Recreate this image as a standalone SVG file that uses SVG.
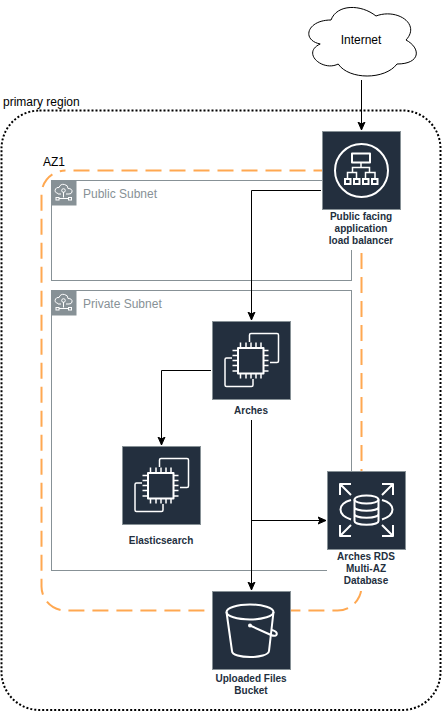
<svg xmlns="http://www.w3.org/2000/svg" width="442" height="712" viewBox="0 0 442 712">
<style>
text{font-family:"Liberation Sans",Arial,sans-serif}
.lbl{font-size:10px;font-weight:bold;fill:#232f3e;text-anchor:middle}
.sub{fill:none;stroke:#879196;stroke-width:1}
.subt{font-size:12px;fill:#879196}
.box{fill:#232f3e;stroke:#879196;stroke-width:1}
.ic{fill:none;stroke:#fff;stroke-width:2;stroke-linejoin:round}
.th{fill:none;stroke:#fff;stroke-width:1.500}
.w{fill:none;stroke:#fff;stroke-width:1}
.bg{fill:#fff;stroke:none}
.c{fill:none;stroke:#000;stroke-width:1;marker-end:url(#a)}
</style>
<defs>
<marker id="a" markerUnits="userSpaceOnUse" markerWidth="10" markerHeight="10" refX="8" refY="5" orient="auto"><path d="M0 1.500L8 5L0 8.500L2 5Z" fill="#000" stroke="#000" stroke-width="1"/></marker>
<g id="ec2">
<path class="th" d="M37.500 21V14Q37.500 12.500 39 12.500H65Q66.500 12.500 66.500 14V40Q66.500 41.500 65 41.500H58"/>
<path class="th" d="M20 37H14.500Q13 37 13 38.500V64Q13 65.500 14.500 65.500H39.500Q41 65.500 41 64V58"/>
<rect class="ic" x="26" y="27" width="25.500" height="25.500"/>
<path class="th" d="M28.500 21.500v5M34 21.500v5M39 21.500v5M44 21.500v5M49 21.500v5M28.500 52.500v5M34 52.500v5M39 52.500v5M44 52.500v5M49 52.500v5M20.500 29.500h5M20.500 34.500h5M20.500 39.500h5M20.500 44.500h5M20.500 50h5M51.500 29.500h5M51.500 34.500h5M51.500 39.500h5M51.500 44.500h5M51.500 50h5"/>
</g>
<g id="cl">
<rect width="25.500" height="25.500" fill="#879196"/>
<path class="w" d="M7 13.500Q3 12.500 4.500 9Q5.500 7 8 7.500Q9.500 3.500 13.500 4.500Q17 5 17 8.500Q21.500 8.500 21 12Q20.500 14 18 14H15M10 14H7M12.500 12V17.500M8 18.500h9.500"/>
<circle class="w" cx="12.500" cy="10.500" r="1.800"/>
<rect class="w" x="5" y="17.500" width="3" height="2.500"/>
<rect class="w" x="17.500" y="17.500" width="3" height="2.500"/>
</g>
</defs>
<rect width="442" height="712" fill="#fff"/>
<g id="primary-region">
<rect x="1.500" y="110.500" width="439" height="599.500" rx="38" fill="none" stroke="#000" stroke-width="2" stroke-dasharray="2 2"/>
<text x="3" y="106" font-size="12" fill="#000">primary region</text>
</g>
<g id="az1">
<rect x="41.500" y="170.500" width="320" height="440" rx="24" fill="none" stroke="#ff9933" stroke-opacity=".85" stroke-width="2" stroke-dasharray="16 8" stroke-dashoffset="-8"/>
<text x="43" y="166" font-size="12" fill="#000">AZ1</text>
</g>
<g id="public-subnet">
<rect class="sub" x="51.500" y="180.500" width="300" height="100"/>
<use href="#cl" x="51" y="180"/>
<text class="subt" x="83" y="198">Public Subnet</text>
</g>
<g id="private-subnet">
<rect class="sub" x="51.500" y="290.500" width="300" height="280"/>
<use href="#cl" x="51" y="290"/>
<text class="subt" x="83" y="308">Private Subnet</text>
</g>
<g id="connectors">
<path class="c" d="M361.500 80V130"/>
<path class="c" d="M321 190.500H251.500V320"/>
<path class="c" d="M211 370.500H161.500V445"/>
<path class="c" d="M251.500 420V590"/>
<path class="c" d="M251.500 520.500H326"/>
</g>
<g id="internet">
<path d="M331 20C307 20 301 40 320.200 44C301 52.800 322.600 72 338.200 64C349 80 385 80 397 64C421 64 421 48 406 40C421 24 397 8 376 16C361 4 337 4 331 20Z" fill="#fff" stroke="#000" stroke-width="1"/>
<text x="361" y="44" font-size="12" text-anchor="middle" fill="#000">Internet</text>
</g>
<g id="alb">
<rect class="bg" x="322" y="210" width="79" height="40"/>
<rect class="box" x="322.500" y="131.500" width="78" height="78"/>
<circle cx="361.500" cy="170.500" r="26.500" fill="none" stroke="#fff" stroke-width="2"/>
<rect class="ic" x="352" y="153.500" width="18" height="9"/>
<path class="th" d="M361 162.500V167M352.500 172V167.500H369.500V172M347.500 178V172.500H356.500V178M365.500 178V172.500H375V178"/>
<g fill="#232f3e" stroke="#fff" stroke-width="2"><rect x="345" y="179" width="5.500" height="5"/><rect x="354" y="179" width="5.500" height="5"/><rect x="363" y="179" width="5.500" height="5"/><rect x="372" y="179" width="5.500" height="5"/></g>
<text class="lbl" x="361" y="220">Public facing</text>
<text class="lbl" x="361" y="232">application</text>
<text class="lbl" x="361" y="244">load balancer</text>
</g>
<g id="arches">
<rect class="box" x="212.500" y="321.500" width="78" height="78"/>
<use href="#ec2" x="212" y="321"/>
<text class="lbl" x="251" y="414">Arches</text>
</g>
<g id="elasticsearch">
<rect class="box" x="122.500" y="446.500" width="78" height="78"/>
<use href="#ec2" x="122" y="446"/>
<text class="lbl" x="161" y="544">Elasticsearch</text>
</g>
<g id="rds">
<rect class="bg" x="327" y="550" width="79" height="41"/>
<rect class="box" x="327.500" y="471.500" width="78" height="78"/>
<ellipse cx="366.500" cy="499.500" rx="12" ry="4" class="ic"/>
<path class="ic" d="M354.500 499.500V521C354.500 526 378.500 526 378.500 521V499.500M354.500 507C354.500 512 378.500 512 378.500 507M354.500 514C354.500 519 378.500 519 378.500 514"/>
<path class="ic" d="M351 500C337 504 337 515 351 519.500M382 500C396 504 396 515 382 519.500"/>
<path class="ic" d="M340 484L351 495M340 495V484H351M393 484L382 495M382 484H393V495M340 536L351 525M340 525V536H351M393 536L382 525M393 525V536H382"/>
<text class="lbl" x="366" y="560">Arches RDS</text>
<text class="lbl" x="366" y="572">Multi-AZ</text>
<text class="lbl" x="366" y="584">Database</text>
</g>
<g id="s3">
<rect class="box" x="212.500" y="591.500" width="78" height="78"/>
<ellipse cx="250" cy="612" rx="23.500" ry="7.500" class="ic"/>
<path class="ic" d="M226.500 612L232 651C232 659 268 659 269 651L273.500 612"/>
<path class="ic" d="M250 625.500L271 635C278 638 279 632 272 630"/>
<circle cx="250" cy="625.500" r="2" fill="#fff"/>
<text class="lbl" x="251" y="682">Uploaded Files</text>
<text class="lbl" x="251" y="694">Bucket</text>
</g>
</svg>
